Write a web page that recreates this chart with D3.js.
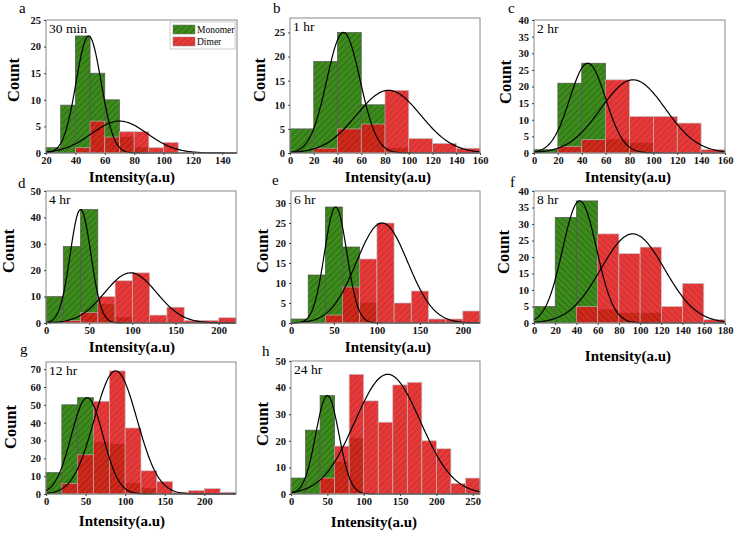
<!DOCTYPE html>
<html>
<head>
<meta charset="utf-8">
<script src="https://cdn.jsdelivr.net/npm/d3@7"></script>
<style>
  body { margin: 0; background: #fff; }
  svg { font-family: "Liberation Serif", "Times New Roman", serif; }
</style>
</head>
<body>
<svg id="chart" width="735" height="533"></svg>
<script>
const width = 735;
const height = 533;

// data
const panelLetters = ['a', 'b', 'c', 'd', 'e', 'f', 'g', 'h'];
const timeLabels = ['30 min', '1 hr', '2 hr', '4 hr', '6 hr', '8 hr', '12 hr', '24 hr'];
const binStart = [20, 0, 0, 0, 0, 0, 0, 0];
const binWidth = [10, 20, 20, 20, 20, 20, 20, 20];
const xMin = [20, 0, 0, 0, 0, 0, 0, 0];
const xMax = [150, 160, 160, 220, 220, 180, 240, 260];
const yMax = [25, 28, 40, 50, 33, 40, 74, 50];
const xTickValues = [
    [20, 40, 60, 80, 100, 120, 140],
    [0, 20, 40, 60, 80, 100, 120, 140, 160],
    [0, 20, 40, 60, 80, 100, 120, 140, 160],
    [0, 50, 100, 150, 200],
    [0, 50, 100, 150, 200],
    [0, 20, 40, 60, 80, 100, 120, 140, 160, 180],
    [0, 50, 100, 150, 200],
    [0, 50, 100, 150, 200, 250]
];
const yTickValues = [
    [0, 5, 10, 15, 20, 25],
    [0, 5, 10, 15, 20, 25],
    [0, 5, 10, 15, 20, 25, 30, 35, 40],
    [0, 10, 20, 30, 40, 50],
    [0, 5, 10, 15, 20, 25, 30],
    [0, 5, 10, 15, 20, 25, 30, 35, 40],
    [0, 10, 20, 30, 40, 50, 60, 70],
    [0, 10, 20, 30, 40, 50]
];
const monomerCounts = [
    [1, 9, 22, 15, 10, 3, 1],
    [5, 19, 25, 10, 1],
    [1, 21, 27, 4, 3],
    [10, 29, 43, 7, 2],
    [1, 12, 29, 19, 5],
    [5, 32, 37, 4, 3, 3],
    [12, 50, 54, 29, 28, 6, 3],
    [6, 24, 37, 12, 21]
];
const dimerCounts = [
    [0, 0, 1, 6, 3, 4, 4, 1, 2],
    [0, 1, 5, 6, 13, 3, 2, 1],
    [0, 2, 4, 22, 11, 11, 9, 1],
    [0, 1, 4, 10, 16, 19, 3, 6, 1, 1, 2],
    [0, 0, 2, 9, 16, 25, 5, 8, 1, 1, 3],
    [0, 0, 5, 27, 21, 23, 5, 12, 1],
    [0, 6, 22, 52, 69, 37, 13, 7, 1, 2, 3, 1],
    [0, 0, 6, 18, 45, 35, 27, 41, 42, 20, 17, 4, 6]
];
// gaussian fits: [centre, sigma, peak]
const monomerFit = [
    [49, 8.5, 22], [45, 14, 25], [45, 15, 27], [40, 12, 43],
    [52, 13, 29], [43, 16, 37], [52, 20, 54], [50, 16, 37]
];
const dimerFit = [
    [70, 19, 6], [83, 27, 13], [83, 27, 22], [98, 30, 19],
    [106, 30, 25], [93, 30, 27], [88, 27, 69], [133, 45, 45]
];
const legendLabels = ['Monomer', 'Dimer'];

// layout: plot frames [left, top, right, bottom]
const frames = [
    [46, 20, 237, 153], [290, 18, 480, 153], [534, 20, 725, 153],
    [46, 191, 236, 323], [291, 191, 480, 323], [534, 191, 725, 323],
    [46, 362, 236, 494], [291, 361, 480, 494]
];
const letterPos = [[19, 13], [273, 13], [508, 13], [18, 188], [272, 185], [510, 187], [20, 354], [262, 356]];
const countPos = [[13, 80], [259, 80], [505, 82], [8, 251], [262, 251], [503, 252], [10, 427], [262, 424]];
const xTitlePos = [[132, 182], [388, 182], [628, 182], [132, 352], [388, 352], [628, 361], [122, 526], [374, 527]];
const hatchDir = [45, 45, 45, 45, 45, -45, 45, 45];

const svg = d3.select('#chart');
const defs = svg.append('defs');

function makeHatch(id, base, line, angle) {
    const p = defs.append('pattern')
        .attr('id', id)
        .attr('patternUnits', 'userSpaceOnUse')
        .attr('width', 4.5)
        .attr('height', 4.5)
        .attr('patternTransform', `rotate(${angle})`);
    p.append('rect').attr('width', 4.5).attr('height', 4.5).attr('fill', base);
    p.append('line').attr('x1', 0.5).attr('y1', 0).attr('x2', 0.5).attr('y2', 4.5)
        .attr('stroke', line).attr('stroke-width', 0.8);
}
makeHatch('greenF', '#3d8a1d', '#2a6610', 45);
makeHatch('redF', '#e41c1c', '#b51010', 45);
makeHatch('greenB', '#3d8a1d', '#2a6610', -45);
makeHatch('redB', '#e41c1c', '#b51010', -45);

panelLetters.forEach((letter, i) => {
    const [l, t, r, b] = frames[i];
    const g = svg.append('g');
    const x = d3.scaleLinear().domain([xMin[i], xMax[i]]).range([l, r]);
    const y = d3.scaleLinear().domain([0, yMax[i]]).range([b, t]);
    const suf = hatchDir[i] > 0 ? 'F' : 'B';

    g.append('g').selectAll('rect').data(monomerCounts[i])
        .enter().append('rect')
        .attr('x', (d, k) => x(binStart[i] + k * binWidth[i]))
        .attr('width', (d, k) => x(binStart[i] + (k + 1) * binWidth[i]) - x(binStart[i] + k * binWidth[i]))
        .attr('y', d => y(d))
        .attr('height', d => b - y(d))
        .attr('fill', `url(#green${suf})`)
        .attr('stroke', '#555')
        .attr('stroke-width', 0.7)
        .style('display', d => d > 0 ? null : 'none');

    g.append('g').selectAll('rect').data(dimerCounts[i])
        .enter().append('rect')
        .attr('x', (d, k) => x(binStart[i] + k * binWidth[i]))
        .attr('width', (d, k) => x(binStart[i] + (k + 1) * binWidth[i]) - x(binStart[i] + k * binWidth[i]))
        .attr('y', d => y(d))
        .attr('height', d => b - y(d))
        .attr('fill', `url(#red${suf})`)
        .attr('opacity', 0.87)
        .attr('stroke', '#bbb')
        .attr('stroke-width', 0.7)
        .style('display', d => d > 0 ? null : 'none');

    const gauss = (p) => (v) => p[2] * Math.exp(-((v - p[0]) ** 2) / (2 * p[1] * p[1]));
    const xs = d3.range(xMin[i], xMax[i] + 0.01, (xMax[i] - xMin[i]) / 200);
    [monomerFit[i], dimerFit[i]].forEach(p => {
        const f = gauss(p);
        g.append('path')
            .datum(xs)
            .attr('fill', 'none')
            .attr('stroke', '#000')
            .attr('stroke-width', 1.2)
            .attr('d', d3.line().x(v => x(v)).y(v => y(f(v))));
    });

    g.append('rect')
        .attr('x', l).attr('y', t)
        .attr('width', r - l).attr('height', b - t)
        .attr('fill', 'none')
        .attr('stroke', '#888')
        .attr('stroke-width', 1);

    const xAxis = g.append('g').attr('transform', `translate(0,${b})`)
        .call(d3.axisBottom(x).tickValues(xTickValues[i]).tickSize(2).tickPadding(2));
    const yAxis = g.append('g').attr('transform', `translate(${l},0)`)
        .call(d3.axisLeft(y).tickValues(yTickValues[i]).tickSize(2).tickPadding(3));
    [xAxis, yAxis].forEach(a => {
        a.select('.domain').remove();
        a.selectAll('line').attr('stroke', '#444');
        a.selectAll('text')
            .attr('font-family', '"Liberation Serif", serif')
            .attr('font-weight', 'bold')
            .attr('font-size', 10.5)
            .attr('fill', '#111');
    });

    svg.append('text')
        .attr('x', letterPos[i][0]).attr('y', letterPos[i][1])
        .attr('font-size', 15)
        .text(letter);

    svg.append('text')
        .attr('x', l + 3).attr('y', t + 13)
        .attr('font-size', 13.5)
        .text(timeLabels[i]);

    svg.append('text')
        .attr('transform', `translate(${countPos[i][0]},${countPos[i][1]}) rotate(-90)`)
        .attr('dy', '0.35em')
        .attr('text-anchor', 'middle')
        .attr('font-weight', 'bold')
        .attr('font-size', 16.5)
        .text('Count');

    svg.append('text')
        .attr('x', xTitlePos[i][0]).attr('y', xTitlePos[i][1])
        .attr('text-anchor', 'middle')
        .attr('font-weight', 'bold')
        .attr('font-size', 15)
        .text('Intensity(a.u)');

    if (i === 0) {
        const lg = svg.append('g');
        lg.append('rect')
            .attr('x', 170).attr('y', 22).attr('width', 65).attr('height', 27)
            .attr('fill', '#fff').attr('stroke', '#aaa').attr('stroke-width', 0.6);
        ['greenF', 'redF'].forEach((fid, k) => {
            lg.append('rect')
                .attr('x', 173).attr('y', 25 + k * 12).attr('width', 22).attr('height', 9)
                .attr('fill', `url(#${fid})`)
                .attr('opacity', k === 1 ? 0.87 : 1)
                .attr('stroke', '#777').attr('stroke-width', 0.5);
            lg.append('text')
                .attr('x', 197).attr('y', 33 + k * 12)
                .attr('font-size', 9.5)
                .text(legendLabels[k]);
        });
    }
});
</script>
</body>
</html>
